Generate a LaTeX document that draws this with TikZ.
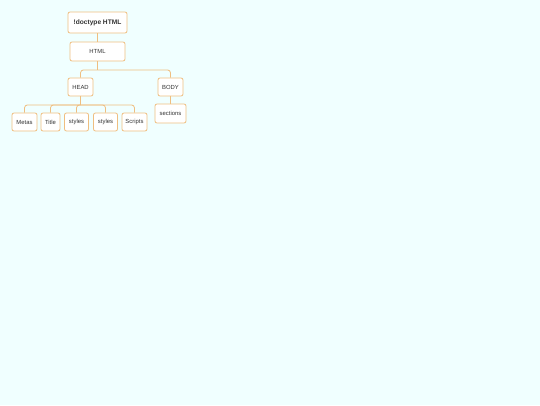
\documentclass[tikz,border=0pt]{standalone}
\usepackage{fontspec}
\setmainfont{Liberation Sans}
\usetikzlibrary{positioning}
\definecolor{bgcyan}{HTML}{F0FFFF}
\definecolor{boxline}{HTML}{EFBE80}
\definecolor{boxtext}{HTML}{333333}

\begin{document}
\begin{tikzpicture}[x=1pt, y=-1pt,
    tag/.style={draw=boxline, fill=white, rounded corners=2pt, line width=0.8pt,
        minimum height=18pt, inner sep=0pt, text=boxtext, font=\fontsize{5.9}{6}\selectfont},
    link/.style={draw=boxline, line width=0.8pt, rounded corners=3pt}]
    \fill[bgcyan] (0,0) rectangle (540,405);
    \useasboundingbox (0,0) rectangle (540,405);

    \node[tag, minimum width=59pt, minimum height=21pt, font=\fontsize{6.6}{7}\selectfont\bfseries] (doctype) at (97.5,22.5) {!doctype HTML};
    \node[tag, minimum width=55pt, minimum height=19pt] (html) at (97.5,51.5) {HTML};
    \node[tag, minimum width=25pt] (head) at (80.5,87) {HEAD};
    \node[tag, minimum width=25pt] (body) at (170.5,87) {BODY};
    \node[tag, minimum width=25pt] (metas) at (24.5,122) {Metas};
    \node[tag, minimum width=19pt] (title) at (50.5,122) {Title};
    \node[tag, minimum width=24pt] (styles1) at (76.5,122) {styles};
    \node[tag, minimum width=24pt] (styles2) at (105.5,122) {styles};
    \node[tag, minimum width=25pt] (scripts) at (134.5,122) {Scripts};
    \node[tag, minimum width=31pt, minimum height=19pt] (sections) at (170.5,113.5) {sections};

    % trunks, then bars to each child
    \draw[link] (doctype) -- (html);
    \draw[link] (html.south) -- ++(0,8.5) coordinate (htmlbar);
    \draw[link] (htmlbar) -| (head.north);
    \draw[link] (htmlbar) -| (body.north);
    \draw[link] (head.south) -- ++(0,8.5) coordinate (headbar);
    \foreach \kid in {metas, title, styles1, styles2, scripts}
        \draw[link] (headbar) -| (\kid.north);
    \draw[link] (body) -- (sections);
\end{tikzpicture}
\end{document}
